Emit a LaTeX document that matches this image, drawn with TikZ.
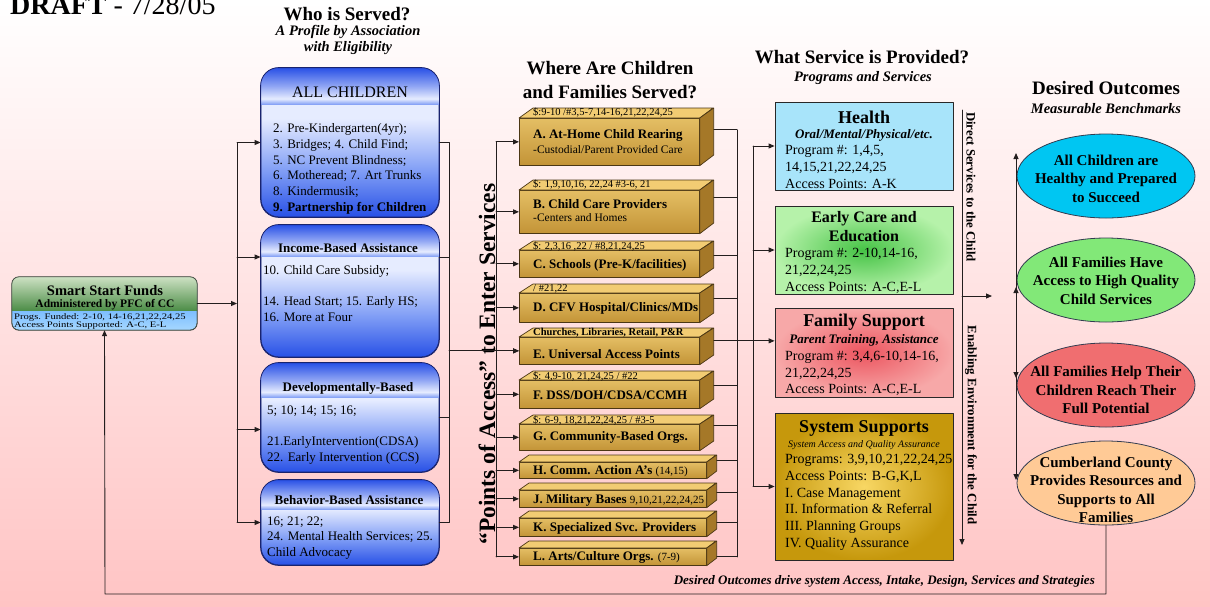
\documentclass[tikz,border=0pt]{standalone}
\usepackage{fontspec}
\setmainfont{Liberation Serif}
\usetikzlibrary{arrows.meta,shapes.geometric}

\definecolor{bgpink}{RGB}{255,196,196}
\definecolor{lnc}{RGB}{35,30,30}
\definecolor{bdark}{RGB}{40,80,230}
\definecolor{bmid}{RGB}{125,155,245}
\definecolor{blight}{RGB}{230,236,255}
\definecolor{bedge}{RGB}{25,35,110}
\definecolor{sg1}{RGB}{205,225,195}
\definecolor{sg2}{RGB}{75,140,70}
\definecolor{sb1}{RGB}{55,145,255}
\definecolor{sb2}{RGB}{165,215,255}
\definecolor{sedge}{RGB}{60,70,60}
\definecolor{gdark}{RGB}{195,148,55}
\definecolor{glight}{RGB}{228,190,100}
\definecolor{gtop}{RGB}{242,204,115}
\definecolor{gside}{RGB}{165,120,40}
\definecolor{gedge}{RGB}{75,55,20}
\definecolor{hcyan}{RGB}{168,228,250}
\definecolor{ecin}{RGB}{70,195,70}
\definecolor{ecout}{RGB}{182,242,170}
\definecolor{fsin}{RGB}{236,85,95}
\definecolor{fsout}{RGB}{247,168,168}
\definecolor{ssin}{RGB}{248,215,100}
\definecolor{ssout}{RGB}{198,152,12}
\definecolor{boxedge}{RGB}{40,40,40}
\definecolor{oc1c}{RGB}{0,198,242}
\definecolor{oc2c}{RGB}{130,232,120}
\definecolor{oc3c}{RGB}{240,110,112}
\definecolor{oc4c}{RGB}{255,202,150}
\definecolor{oedge}{RGB}{50,60,80}

\pgfdeclareverticalshading{bbody}{100bp}{color(0bp)=(bdark); color(25bp)=(bdark); color(40bp)=(bmid); color(58bp)=(blight); color(100bp)=(blight)}
\pgfdeclareverticalshading{bhead}{100bp}{color(0bp)=(bmid); color(25bp)=(bmid); color(33bp)=(blight); color(50bp)=(blight!55!bdark); color(75bp)=(bdark); color(100bp)=(bdark)}

\pgfdeclarelayer{back}
\pgfdeclarelayer{lines}
\pgfsetlayers{back,lines,main}

% header band over a box node: node, height, shading, corner radius, edge colour
\newcommand{\headband}[5]{%
  \begin{scope}
    \clip[rounded corners=#4] (#1.north west) rectangle (#1.south east);
    \shade[#3] (#1.north west) rectangle ([yshift=-#2pt]#1.north east);
  \end{scope}
  \draw[#5,line width=0.8pt,rounded corners=#4] (#1.north west) rectangle (#1.south east);
}

\begin{document}
\begin{tikzpicture}[x=1pt,y=-1pt,line cap=round,line join=round,
  conn/.style={draw=lnc,line width=0.9pt},
  arr/.style={conn,-{Triangle[length=6pt,width=5pt]}},
  ttl/.style={inner sep=0pt,align=center,font=\bfseries\fontsize{19}{23.5}\selectfont},
  subttl/.style={inner sep=0pt,align=center,font=\bfseries\itshape\fontsize{14.5}{16}\selectfont},
  bluebox/.style={shade,shading=bbody,draw=bedge,line width=0.8pt,rounded corners=18pt,minimum width=178pt,inner sep=0pt},
  bhd/.style={inner sep=0pt,font=\bfseries\fontsize{13}{15}\selectfont},
  btxt/.style={inner sep=0pt,anchor=north west,align=left,font=\fontsize{13}{15.8}\selectfont},
  gfront/.style={top color=glight,bottom color=gdark,draw=gedge,line width=0.7pt,inner sep=0pt,anchor=north west},
  gface/.style={draw=gedge,line width=0.7pt},
  gcap/.style={inner sep=0pt,anchor=west,font=\fontsize{10.5}{11}\selectfont},
  glbl/.style={inner sep=0pt,anchor=west,font=\bfseries\fontsize{13}{15}\selectfont},
  svc/.style={draw=boxedge,line width=0.8pt,minimum width=178pt,inner sep=0pt},
  shd/.style={inner sep=0pt,font=\bfseries\fontsize{18}{20}\selectfont},
  ssub/.style={inner sep=0pt,font=\bfseries\itshape\fontsize{13}{15}\selectfont},
  stxt/.style={inner sep=0pt,anchor=north west,align=left,font=\fontsize{14}{16.8}\selectfont},
  outc/.style={ellipse,draw=oedge,line width=0.8pt,minimum width=178pt,minimum height=84pt,inner sep=0pt},
  otxt/.style={inner sep=0pt,align=center,font=\bfseries\fontsize{15}{18.5}\selectfont},
  side/.style={inner sep=0pt,font=\bfseries\fontsize{12.8}{14}\selectfont},
]
\useasboundingbox (0,0) rectangle (1210,606);
\begin{pgfonlayer}{back}
  \shade[top color=white,bottom color=bgpink] (0,0) rectangle (1210,606);
\end{pgfonlayer}

% titles
\node[inner sep=0pt,anchor=base west,font=\fontsize{28}{30}\selectfont] (draft) at (10,14) {\textbf{DRAFT} - 7/28/05};
\node[ttl] (who) at (347,14) {Who is Served?};
\node[subttl] (whosub) at (348,40) {A Profile by Association\\with Eligibility};
\node[ttl] (where) at (610,80) {Where Are Children\\and Families Served?};
\node[ttl] (what) at (862,57) {What Service is Provided?};
\node[subttl] (whatsub) at (863,78) {Programs and Services};
\node[ttl] (des) at (1106,88) {Desired Outcomes};
\node[subttl] (dessub) at (1106,109) {Measurable Benchmarks};

% funding box
\node[shade,top color=sb1,bottom color=sb2,draw=sedge,rounded corners=7pt,minimum width=185pt,minimum height=53pt,inner sep=0pt] (ssf) at (104.5,303.5) {};
\headband{ssf}{34}{top color=sg1,bottom color=sg2}{7pt}{sedge}
\node[inner sep=0pt,font=\bfseries\fontsize{14.5}{15}\selectfont] (ssf1) at (105,290.5) {Smart Start Funds};
\node[inner sep=0pt,font=\bfseries\fontsize{11.5}{12}\selectfont] (ssf2) at (105,304.5) {Administered by PFC of CC};
\node[inner sep=0pt,anchor=west,font=\fontsize{8.5}{9}\selectfont] (ssf3) at (14,317) {\scalebox{1.25}[1]{Progs. Funded: 2-10, 14-16,21,22,24,25}};
\node[inner sep=0pt,anchor=west,font=\fontsize{8.5}{9}\selectfont] (ssf4) at (14,325) {\scalebox{1.25}[1]{Access Points Supported: A-C, E-L}};

% who is served
\node[bluebox,minimum height=149pt] (allch) at (350,142.5) {};
\headband{allch}{37}{shading=bhead}{18pt}{bedge}
\node[inner sep=0pt,font=\fontsize{16}{18}\selectfont] (allcht) at (350,92) {ALL CHILDREN};
\node[btxt] (allchb) at (273,123.3) {2. Pre-Kindergarten(4yr);\\3. Bridges; 4. Child Find;\\5. NC Prevent Blindness;\\6. Motheread; 7. Art Trunks\\8. Kindermusik;\\\textbf{9. Partnership for Children}};

\node[bluebox,minimum height=132pt] (inc) at (350,291) {};
\headband{inc}{32}{shading=bhead}{18pt}{bedge}
\node[bhd] (inct) at (348,248) {Income-Based Assistance};
\node[btxt] (incb) at (263,265.3) {10. Child Care Subsidy;\\[15.5pt]14. Head Start; 15. Early HS;\\16. More at Four};

\node[bluebox,minimum height=109pt] (dev) at (350,417.5) {};
\headband{dev}{35}{shading=bhead}{18pt}{bedge}
\node[bhd] (devt) at (348,388) {Developmentally-Based};
\node[btxt] (devb) at (267,405.3) {5; 10; 14; 15; 16;\\[15.5pt]21.EarlyIntervention(CDSA)\\22. Early Intervention (CCS)};

\node[bluebox,minimum height=85pt] (beh) at (350,522.5) {};
\headband{beh}{30}{shading=bhead}{18pt}{bedge}
\node[bhd] (beht) at (349,500) {Behavior-Based Assistance};
\node[btxt] (behb) at (267,516.3) {16; 21; 22;\\24. Mental Health Services; 25.\\Child Advocacy};

% points of access
\foreach \nm/\yt/\hh/\ww/\dx/\dy in {gA/118/47/180/14/10,gB/190/43/180/14/10,gC/250/27/180/14/9,gD/293/29/180/14/9,gE/337/27/180/14/9,gF/380/28/180/14/9,gG/424/26/180/14/9,gH/462/16/187/10/7,gJ/490/17/187/10/7,gK/518/18/187/10/7,gL/548/17/187/10/7}{
  \node[gfront,minimum width=\ww pt,minimum height=\hh pt] (\nm) at (519,\yt) {};
  \draw[gface,fill=gtop] (\nm.north west) -- ++(\dx,-\dy) -- ++(\ww,0) -- (\nm.north east) -- cycle;
  \draw[gface,fill=gside] (\nm.north east) -- ++(\dx,-\dy) -- ++(0,\hh) -- (\nm.south east) -- cycle;
}
\node[gcap] (gAc) at (533,113) {\$:9-10 /\#3,5-7,14-16,21,22,24,25};
\node[glbl] (gAt) at (533,135) {A. At-Home Child Rearing};
\node[gcap,font=\fontsize{11.5}{12}\selectfont] (gAs) at (533,150) {-Custodial/Parent Provided Care};
\node[gcap] (gBc) at (533,184) {\$: 1,9,10,16, 22,24 \#3-6, 21};
\node[glbl] (gBt) at (533,204) {B. Child Care Providers};
\node[gcap,font=\fontsize{11.5}{12}\selectfont] (gBs) at (533,218) {-Centers and Homes};
\node[gcap] (gCc) at (533,246) {\$: 2,3,16 ,22 / \#8,21,24,25};
\node[glbl] (gCt) at (533,265) {C. Schools (Pre-K/facilities)};
\node[gcap] (gDc) at (533,289) {/ \#21,22};
\node[glbl] (gDt) at (533,308) {D. CFV Hospital/Clinics/MDs};
\node[gcap,font=\bfseries\fontsize{10.5}{11}\selectfont] (gEc) at (533,333) {Churches, Libraries, Retail, P\&R};
\node[glbl] (gEt) at (533,354) {E. Universal Access Points};
\node[gcap] (gFc) at (533,376) {\$: 4,9-10, 21,24,25 / \#22};
\node[glbl] (gFt) at (533,395) {F. DSS/DOH/CDSA/CCMH};
\node[gcap] (gGc) at (533,420) {\$: 6-9, 18,21,22,24,25 / \#3-5};
\node[glbl] (gGt) at (533,437) {G. Community-Based Orgs.};
\node[glbl] (gHt) at (533,471) {H. Comm. Action A's {\mdseries\fontsize{11}{12}\selectfont (14,15)}};
\node[glbl] (gJt) at (533,500) {J. Military Bases {\mdseries\fontsize{11}{12}\selectfont 9,10,21,22,24,25}};
\node[glbl] (gKt) at (533,528) {K. Specialized Svc. Providers};
\node[glbl] (gLt) at (533,557) {L. Arts/Culture Orgs. {\mdseries\fontsize{11}{12}\selectfont (7-9)}};
\node[inner sep=0pt,rotate=90,font=\bfseries\fontsize{23.5}{25}\selectfont] (poa) at (487,364) {``Points of Access'' to Enter Services};

% services
\node[svc,fill=hcyan,minimum height=88pt] (hlth) at (864,146) {};
\node[shd] (hltht) at (864,117) {Health};
\node[ssub] (hlths) at (864,135) {Oral/Mental/Physical/etc.};
\node[stxt] (hlthb) at (785,145) {Program \#: 1,4,5,\\14,15,21,22,24,25\\Access Points: A-K};

\node[svc,inner color=ecin,outer color=ecout,minimum height=88pt] (ecare) at (864,250) {};
\node[inner sep=0pt,align=center,font=\bfseries\fontsize{16}{19.3}\selectfont] (ecaret) at (864,226.5) {Early Care and\\Education};
\node[stxt] (ecareb) at (785,248) {Program \#: 2-10,14-16,\\21,22,24,25\\Access Points: A-C,E-L};

\node[svc,inner color=fsin,outer color=fsout,minimum height=89pt] (fams) at (864,352.5) {};
\node[shd] (famst) at (864,322.5) {Family Support};
\node[ssub] (famss) at (864,340) {Parent Training, Assistance};
\node[stxt] (famsb) at (785,350.7) {Program \#: 3,4,6-10,14-16,\\21,22,24,25\\Access Points: A-C,E-L};

\node[svc,inner color=ssin,outer color=ssout,minimum height=147pt] (syss) at (864,486.5) {};
\node[shd] (syst) at (864,428.5) {System Supports};
\node[inner sep=0pt,font=\itshape\fontsize{10}{11}\selectfont] (sysss) at (864,445) {System Access and Quality Assurance};
\node[stxt] (sysb) at (785,454) {Programs: 3,9,10,21,22,24,25\\Access Points: B-G,K,L\\I. Case Management\\II. Information \& Referral\\III. Planning Groups\\IV. Quality Assurance};

\node[side,rotate=-90] (dsc) at (971,187) {Direct Services to the Child};
\node[side,rotate=-90] (eec) at (971,425) {Enabling Environment for the Child};

% outcomes
\node[outc,fill=oc1c] (oc1) at (1106,176) {};
\node[otxt] (oc1t) at (1106,178.5) {All Children are\\Healthy and Prepared\\to Succeed};
\node[outc,fill=oc2c] (oc2) at (1106,280) {};
\node[otxt] (oc2t) at (1106,280.5) {All Families Have\\Access to High Quality\\Child Services};
\node[outc,fill=oc3c] (oc3) at (1106,385) {};
\node[otxt] (oc3t) at (1106,390) {All Families Help Their\\Children Reach Their\\Full Potential};
\node[outc,fill=oc4c] (oc4) at (1106,483) {};
\node[otxt] (oc4t) at (1106,490) {Cumberland County\\Provides Resources and\\Supports to All\\Families};

% connectors
\coordinate (lbl) at (237,0);
\coordinate (rbl) at (449,0);
\coordinate (lb) at (496,0);
\coordinate (rb) at (737,0);
\coordinate (rbs) at (753,0);
\draw[arr] (ssf.east) -- (ssf.east -| lbl);
\draw[conn] (lbl |- allch.west) -- (lbl |- beh.west);
\draw[arr] (lbl |- allch.west) -- (allch.west);
\draw[arr,transform canvas={yshift=34pt}] (lbl |- inc.west) -- (inc.west);
\draw[arr,transform canvas={yshift=-12pt}] (lbl |- dev.west) -- (dev.west);
\draw[arr] (lbl |- beh.west) -- (beh.west);

\draw[conn] (allch.east) -- (allch.east -| rbl) -- (beh.east -| rbl) -- (beh.east);
\draw[conn,transform canvas={yshift=34pt}] (inc.east) -- (inc.east -| rbl);
\draw[conn] (dev.east) -- (dev.east -| rbl);
\draw[arr] (rbl |- gE.west) -- (gE.west);

\draw[conn] (lb |- gA.west) -- (lb |- gL.west);
\foreach \nm in {gA,gB,gC,gD,gE,gF,gG,gH,gJ,gK,gL}
  \draw[arr] (lb |- \nm.west) -- (\nm.west);

\begin{pgfonlayer}{lines}
  \foreach \nm/\sh in {gA/12,gB/14,gC/8,gD/9,gF/9,gG/12,gH/10,gJ/6,gK/5,gL/0}
    \draw[conn,transform canvas={yshift=\sh pt}] (\nm.east) -- (\nm.east -| rb);
  \draw[arr,transform canvas={yshift=10pt}] (gE.east) -- (gE.east -| fams.west);
\end{pgfonlayer}
\draw[conn] (rb |- gA.east) ++(0,-12) -- (rb |- gL.east);

\draw[conn] (rbs |- hlth.west) -- (rbs |- syss.west);
\draw[arr] (rbs |- hlth.west) -- (hlth.west);
\draw[arr] (rbs |- ecare.west) -- (ecare.west);
\draw[arr] (rbs |- syss.west) -- (syss.west);

\coordinate (dv1) at (962,110);
\coordinate (dv2) at (962,545);
\coordinate (dh) at (992,296);
\draw[arr] (dv1) -- (dv2);
\draw[arr] (dv1 |- dh) -- (dh);

\coordinate (om) at (1016,330);
\coordinate (oa1) at (1016,153);
\coordinate (oa2) at (1016,287);
\coordinate (oa3) at (1016,378);
\coordinate (oa4) at (1016,480);
\foreach \p in {oa1,oa2,oa3,oa4}
  \draw[arr] (om) -- (\p);

\coordinate (fb) at (105,594);
\draw[arr] (oc4.south) -- (oc4.south |- fb) -- (fb) -- (ssf.south);
\node[inner sep=0pt,anchor=base east,font=\bfseries\itshape\fontsize{13}{15}\selectfont] (fbt) at (1095,584) {Desired Outcomes drive system Access, Intake, Design, Services and Strategies};
\end{tikzpicture}
\end{document}
